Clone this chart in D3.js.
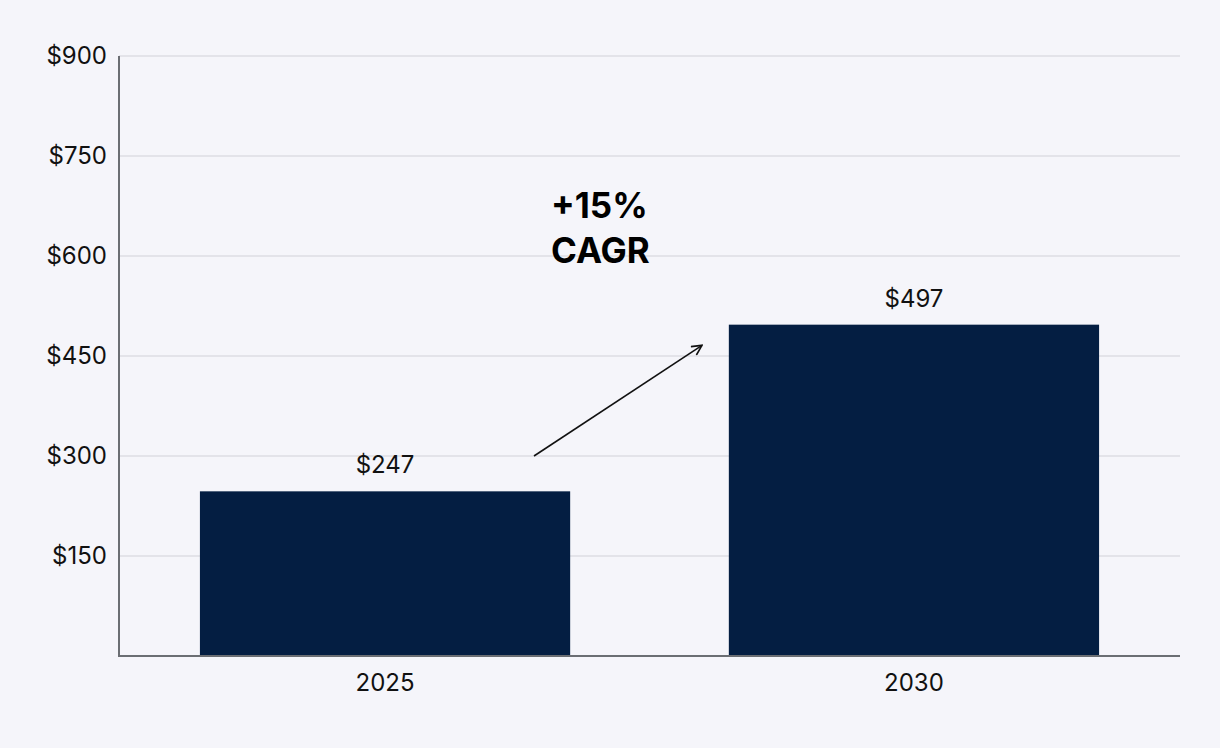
<!DOCTYPE html>
<html><head><meta charset="utf-8">
<script src="https://cdn.jsdelivr.net/npm/d3@7"></script>
<style>
html,body{margin:0;padding:0;background:#f5f5fa;}
svg{display:block;font-family:Inter,"Noto Sans",sans-serif;}
</style></head>
<body>
<svg id="c" width="1220" height="748"></svg>
<script>
const categories = ["2025", "2030"];
const values = [247, 497];
const yTicks = [150, 300, 450, 600, 750, 900];
const annotationLines = ["+15%", "CAGR"];

const W = 1220, H = 748;
const m = {left: 119, right: 40, top: 56, bottom: 92};
const FONT = "Inter,'Noto Sans',sans-serif";
const svg = d3.select("#c");
svg.append("rect").attr("width", W).attr("height", H).attr("fill", "#f5f5fa");

const x = d3.scaleBand().domain(categories).range([m.left, W - m.right]).paddingInner(0.3).paddingOuter(0.153);
const y = d3.scaleLinear().domain([0, 900]).range([H - m.bottom, m.top]);

// gridlines
svg.append("g").selectAll("line").data(yTicks).join("line")
  .attr("x1", m.left).attr("x2", W - m.right)
  .attr("y1", d => y(d)).attr("y2", d => y(d))
  .attr("stroke", "#dcdce3").attr("stroke-width", 1.5);

// bars
svg.append("g").selectAll("rect").data(values).join("rect")
  .attr("x", (d, i) => x(categories[i]))
  .attr("width", x.bandwidth())
  .attr("y", d => y(d))
  .attr("height", d => y(0) - y(d))
  .attr("fill", "#041e42");

// value labels
svg.append("g").selectAll("text").data(values).join("text")
  .attr("x", (d, i) => x(categories[i]) + x.bandwidth() / 2)
  .attr("y", d => y(d) - 18)
  .attr("text-anchor", "middle")
  .attr("font-size", 24).attr("fill", "#111")
  .text(d => "$" + d);

// y axis
const yAxis = d3.axisLeft(y).tickValues(yTicks).tickSize(0).tickPadding(12).tickFormat(d => "$" + d);
const gy = svg.append("g").attr("transform", `translate(${m.left},0)`).call(yAxis);
gy.select(".domain").remove();
gy.selectAll("text").attr("font-size", 24).attr("fill", "#111").attr("font-family", FONT);
svg.append("line").attr("x1", m.left).attr("x2", m.left).attr("y1", y(900)).attr("y2", y(0))
  .attr("stroke", "#6b6e73").attr("stroke-width", 2);

// x axis
const xAxis = d3.axisBottom(x).tickSize(0).tickPadding(18);
const gx = svg.append("g").attr("transform", `translate(0,${y(0)})`).call(xAxis);
gx.select(".domain").remove();
gx.selectAll("text").attr("font-size", 24).attr("fill", "#111").attr("font-family", FONT);
svg.append("line").attr("x1", m.left - 1).attr("x2", W - m.right).attr("y1", y(0)).attr("y2", y(0))
  .attr("stroke", "#6b6e73").attr("stroke-width", 2);

// arrow
const defs = svg.append("defs");
defs.append("marker").attr("id", "ah").attr("viewBox", "0 0 12 12").attr("refX", 11).attr("refY", 6)
  .attr("markerWidth", 12).attr("markerHeight", 12).attr("markerUnits", "userSpaceOnUse").attr("orient", "auto")
  .append("path").attr("d", "M1,1 L11,6 L1,11").attr("fill", "none").attr("stroke", "#111").attr("stroke-width", 1.6);
svg.append("line")
  .attr("x1", 534).attr("y1", y(300))
  .attr("x2", 702).attr("y2", y(466))
  .attr("stroke", "#111").attr("stroke-width", 1.6)
  .attr("marker-end", "url(#ah)");

// annotation text
svg.append("g").selectAll("text").data(annotationLines).join("text")
  .attr("x", 551).attr("y", (d, i) => 218 + i * 45)
  .attr("font-size", 35).attr("font-weight", 700).attr("fill", "#000")
  .text(d => d);
</script>
</body></html>
